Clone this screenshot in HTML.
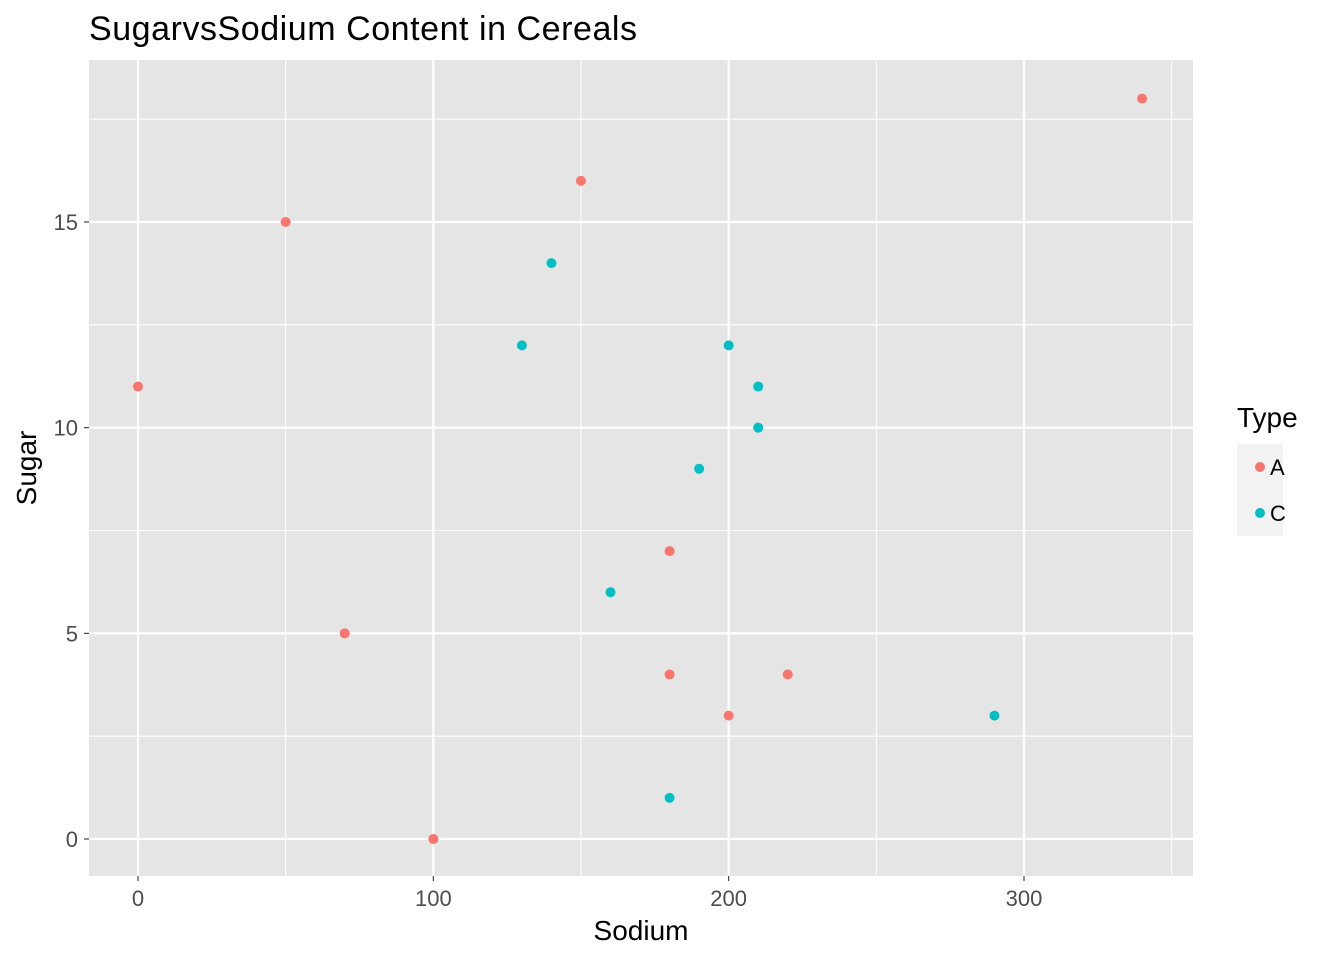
<!DOCTYPE html>
<html><head><meta charset="utf-8">
<style>
body{margin:0;background:#fff;}
svg{display:block;font-family:"Liberation Sans",Arial,sans-serif;}
</style></head>
<body>
<svg id="chart" width="1344" height="960" viewBox="0 0 1344 960" xmlns="http://www.w3.org/2000/svg">
<rect width="1344" height="960" fill="#fff"/>
<text x="89" y="40" font-size="34" textLength="548" fill="#000">SugarvsSodium Content in Cereals</text>
<rect x="89" y="60" width="1104" height="816" fill="#e5e5e5"/>
<g id="grid"></g>
<g id="points"></g>
<g id="axes"></g>
<text x="641" y="940" font-size="28" text-anchor="middle" fill="#000">Sodium</text>
<text transform="translate(36,468) rotate(-90)" font-size="28" text-anchor="middle" fill="#000">Sugar</text>
<g>
<text x="1237" y="427" font-size="28" fill="#000">Type</text>
<rect x="1237" y="444" width="46" height="46" fill="#f2f2f2"/>
<rect x="1237" y="490" width="46" height="46" fill="#f2f2f2"/>
<circle cx="1260" cy="467" r="5" fill="#F8766D"/>
<circle cx="1260" cy="513" r="5" fill="#00BFC4"/>
<text x="1270" y="475" font-size="22" fill="#000">A</text>
<text x="1270" y="521" font-size="22" fill="#000">C</text>
</g>
</svg>
<script>
const sodiumA=[0,50,70,100,150,180,180,200,220,340];
const sugarA=[11,15,5,0,16,7,4,3,4,18];
const sodiumC=[130,140,160,180,190,200,210,210,290];
const sugarC=[12,14,6,1,9,12,11,10,3];
const xTicks=[0,100,200,300];
const yTicks=[0,5,10,15];
const xMinor=[50,150,250,350];
const yMinor=[2.5,7.5,12.5,17.5];

const X0=89,X1=1193,Y0=60,Y1=876;
const xs=v=>138+(v-0)*(1024-138)/300;
const ys=v=>839-(v-0)*(839-222)/15;
const NS="http://www.w3.org/2000/svg";
function mk(tag,attrs,parent){const e=document.createElementNS(NS,tag);for(const k in attrs)e.setAttribute(k,attrs[k]);parent.appendChild(e);return e;}
const grid=document.getElementById('grid'),axes=document.getElementById('axes'),pts=document.getElementById('points');
xMinor.forEach(v=>{const l=mk('line',{x1:xs(v),x2:xs(v),y1:Y0,y2:Y1,stroke:'#fff','stroke-width':1.1},grid);

});
yMinor.forEach(v=>{const l=mk('line',{x1:X0,x2:X1,y1:ys(v),y2:ys(v),stroke:'#fff','stroke-width':1.1},grid);

});
xTicks.forEach(v=>{const l=mk('line',{x1:xs(v),x2:xs(v),y1:Y0,y2:Y1,stroke:'#fff','stroke-width':2.2},grid);


const t=mk('line',{x1:xs(v),x2:xs(v),y1:Y1,y2:Y1+5,stroke:'#333','stroke-width':1.1},axes);


const tx=mk('text',{x:xs(v),y:Y1+30,'font-size':22,fill:'#4d4d4d','text-anchor':'middle'},axes);tx.textContent=v;

});
yTicks.forEach(v=>{const l=mk('line',{x1:X0,x2:X1,y1:ys(v),y2:ys(v),stroke:'#fff','stroke-width':2.2},grid);


const t=mk('line',{x1:X0-5,x2:X0,y1:ys(v),y2:ys(v),stroke:'#333','stroke-width':1.1},axes);


const tx=mk('text',{x:X0-11,y:ys(v)+8,'font-size':22,fill:'#4d4d4d','text-anchor':'end'},axes);tx.textContent=v;

});
sodiumA.forEach((v,i)=>{const c=mk('circle',{cx:xs(v),cy:ys(sugarA[i]),r:5,fill:'#F8766D'},pts);

});
sodiumC.forEach((v,i)=>{const c=mk('circle',{cx:xs(v),cy:ys(sugarC[i]),r:5,fill:'#00BFC4'},pts);

});
</script>
</body></html>
